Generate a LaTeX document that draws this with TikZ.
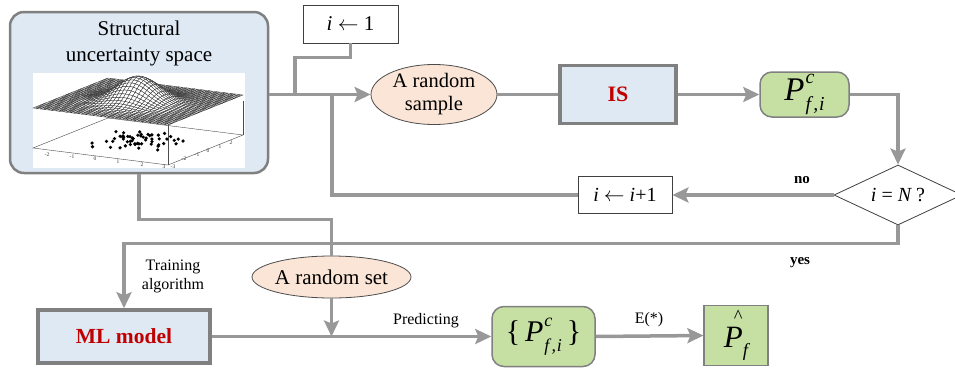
\documentclass[tikz,border=0pt]{standalone}
\usepackage{fontspec}
\setmainfont{Liberation Serif}
\usetikzlibrary{arrows.meta,shapes.geometric}
\definecolor{linegray}{RGB}{152,152,152}
\definecolor{boxblue}{RGB}{222,233,243}
\definecolor{boxedge}{RGB}{128,128,128}
\definecolor{peach}{RGB}{251,229,214}
\definecolor{pgreen}{RGB}{198,224,164}
\definecolor{mlred}{RGB}{192,0,0}
\pgfmathdeclarefunction{bump}{2}{\pgfmathparse{25*exp(-((#1-0.5)^2+(#2-0.5)^2)/0.04)}}
\newcommand{\Pcfi}{{\itshape P}\kern0.03em\rlap{\raisebox{0.52em}{\scalebox{0.6}{\itshape c}}}\raisebox{-0.32em}{\scalebox{0.6}{\itshape f\kern0.12em,\kern0.04em i}}}
\newcommand{\Phatf}{\rlap{\kern0.32em\raisebox{0.8em}{\scalebox{0.6}{\textasciicircum}}}{\itshape P}\raisebox{-0.32em}{\scalebox{0.6}{\itshape f}}}
\begin{document}
\begin{tikzpicture}[x=1pt,y=-1pt,
  conn/.style={draw=linegray, line width=3.5pt},
  arr/.style={-{Stealth[length=16pt,width=15pt,inset=3pt]}},
  spacebox/.style={rectangle, rounded corners=14pt, draw=boxedge, line width=2.5pt, fill=boxblue, inner sep=0pt},
  bluebox/.style={rectangle, draw=boxedge, line width=3.5pt, fill=boxblue, inner sep=0pt, text=mlred, font=\fontsize{22}{26}\selectfont\bfseries},
  oval/.style={ellipse, draw=black!70, line width=0.8pt, fill=peach, inner sep=-4pt, font=\fontsize{20.5}{23}\selectfont, align=center},
  greenbox/.style={rectangle, rounded corners=12pt, draw=boxedge, line width=1.5pt, fill=pgreen, inner sep=0pt},
  greensq/.style={rectangle, draw=boxedge, line width=1.2pt, fill=pgreen, inner sep=0pt},
  plainbox/.style={rectangle, draw=black!75, line width=0.8pt, fill=white, inner sep=0pt, font=\fontsize{21}{24}\selectfont},
  decision/.style={diamond, draw=black!75, line width=0.8pt, fill=white, inner sep=0pt, shape aspect=2.13, font=\fontsize{20}{24}\selectfont},
  lbl/.style={font=\fontsize{16}{19}\selectfont, align=center, inner sep=0pt},
  blbl/.style={font=\fontsize{15}{18}\selectfont\bfseries, inner sep=0pt},
  meshq/.style={fill=white, draw=black!85, line width=0.3pt},
  tick/.style={font=\fontsize{5.5}{6}\selectfont, text=black!80, inner sep=0pt}
]
\useasboundingbox (0,0) rectangle (955,367);

% ---------- structural uncertainty space ----------
\node[spacebox, minimum width=258pt, minimum height=161pt] (struct) at (139,92.5) {};
\node[font=\fontsize{21}{26}\selectfont, align=center, inner sep=0pt] (title) at (139,43) {Structural\\uncertainty space};
\fill[white] (33,73) rectangle (245,168);
% bottom plane
\draw[black!70, line width=0.4pt] (33,148) -- (168,165) -- (243,135) -- (108,118) -- cycle;
\draw[black!70, line width=0.4pt] (168,165) -- (168,125);
\draw[black!70, line width=0.4pt] (243,135) -- (243,101);
\draw[black!70, line width=0.4pt] (108,118) -- (108,100);
% scatter
\pgfmathsetseed{11}
\foreach \k in {1,...,55}{
  \pgfmathsetmacro\ps{0.5+0.17*(rand+rand)}
  \pgfmathsetmacro\pt{0.5+0.17*(rand+rand)}
  \fill[black] ({168-135*\ps+75*\pt},{165-17*\ps-30*\pt}) circle (1.8pt);
}
% surface
\foreach \i in {35,...,0}{
  \foreach \j in {35,...,0}{
    \pgfmathsetmacro\sa{\i/36}
    \pgfmathsetmacro\sb{(\i+1)/36}
    \pgfmathsetmacro\ta{\j/36}
    \pgfmathsetmacro\tb{(\j+1)/36}
    \filldraw[meshq]
      ({168-135*\sa+75*\ta},{125-17*\sa-30*\ta-bump(\sa,\ta)}) --
      ({168-135*\sb+75*\ta},{125-17*\sb-30*\ta-bump(\sb,\ta)}) --
      ({168-135*\sb+75*\tb},{125-17*\sb-30*\tb-bump(\sb,\tb)}) --
      ({168-135*\sa+75*\tb},{125-17*\sa-30*\tb-bump(\sa,\tb)}) -- cycle;
  }
}
% tick labels
\node[tick] at (47,155) {-2};
\node[tick] at (72,157) {-1};
\node[tick] at (95,159) {0};
\node[tick] at (118,162) {1};
\node[tick] at (142,165) {2};
\node[tick] at (164,167) {3};
\node[tick] at (173,167) {-3};
\node[tick] at (184,159) {-2};
\node[tick] at (197,155) {-1};
\node[tick] at (208,151) {0};
\node[tick] at (220,147) {1};
\node[tick] at (231,143) {2};

% ---------- nodes ----------
\node[plainbox, minimum width=95pt, minimum height=38pt] (init) at (350.5,24) {{\itshape i} $\leftarrow$ 1};
\node[oval, minimum width=126pt, minimum height=60pt] (samp) at (434,94.5) {A random\\sample};
\node[bluebox, minimum width=116pt, minimum height=58pt] (IS) at (618,94.5) {IS};
\node[greenbox, minimum width=89pt, minimum height=45pt, font=\fontsize{33}{34}\selectfont] (Pc) at (804.5,94.5) {\Pcfi};
\node[decision, minimum width=128pt, minimum height=60pt] (dia) at (898,195) {{\itshape i} = {\itshape N} ?};
\node[plainbox, minimum width=94pt, minimum height=37pt, font=\fontsize{20}{24}\selectfont] (inc) at (625,195) {{\itshape i} $\leftarrow$ {\itshape i}+1};
\node[oval, minimum width=159pt, minimum height=42pt, inner sep=-3pt, font=\fontsize{21}{24}\selectfont] (rset) at (331.5,277) {A random set};
\node[bluebox, minimum width=172pt, minimum height=53pt, font=\fontsize{21.5}{25}\selectfont\bfseries] (ML) at (124,336.5) {ML model};
\node[greenbox, minimum width=103pt, minimum height=60pt, font=\fontsize{30}{32}\selectfont] (Pset) at (543.5,336.5) {\{\,\Pcfi\,\}};
\node[greensq, minimum width=64pt, minimum height=60pt, font=\fontsize{31}{34}\selectfont] (Phat) at (736,335.5) {\Phatf};

\coordinate (j1) at (295,94.5);
\coordinate (j2) at (332,94.5);

% ---------- connectors ----------
\draw[conn, arr] (struct.east |- samp.west) -- (samp.west);
\draw[conn] (init.south) -- ++(0,14) -| (j1);
\draw[conn] (samp.east) -- (IS.west);
\draw[conn, arr] (IS.east) -- (Pc.west);
\draw[conn, arr] (Pc.east) -| (dia.north);
\draw[conn, arr] (dia.west) -- (inc.east);
\draw[conn] (inc.west) -| (j2);
\draw[conn, arr] (dia.south) -- ++(0,18) -| (ML.north);
\draw[conn] (struct.south) -- ++(0,45) -| (rset.north);
\draw[conn, arr] (rset.south) -- (rset.south |- ML.east);
\draw[conn, arr] (ML.east) -- (Pset.west);
\draw[conn, arr] (Pset.east) -- (Phat.west);

% ---------- labels ----------
\node[blbl] (no) at (802,180) {no};
\node[blbl] (yes) at (800,263) {yes};
\node[lbl] (train) at (173,276) {Training\\algorithm};
\node[lbl] (pred) at (426,321) {Predicting};
\node[lbl] (expv) at (649,320) {E(*)};
\end{tikzpicture}
\end{document}
